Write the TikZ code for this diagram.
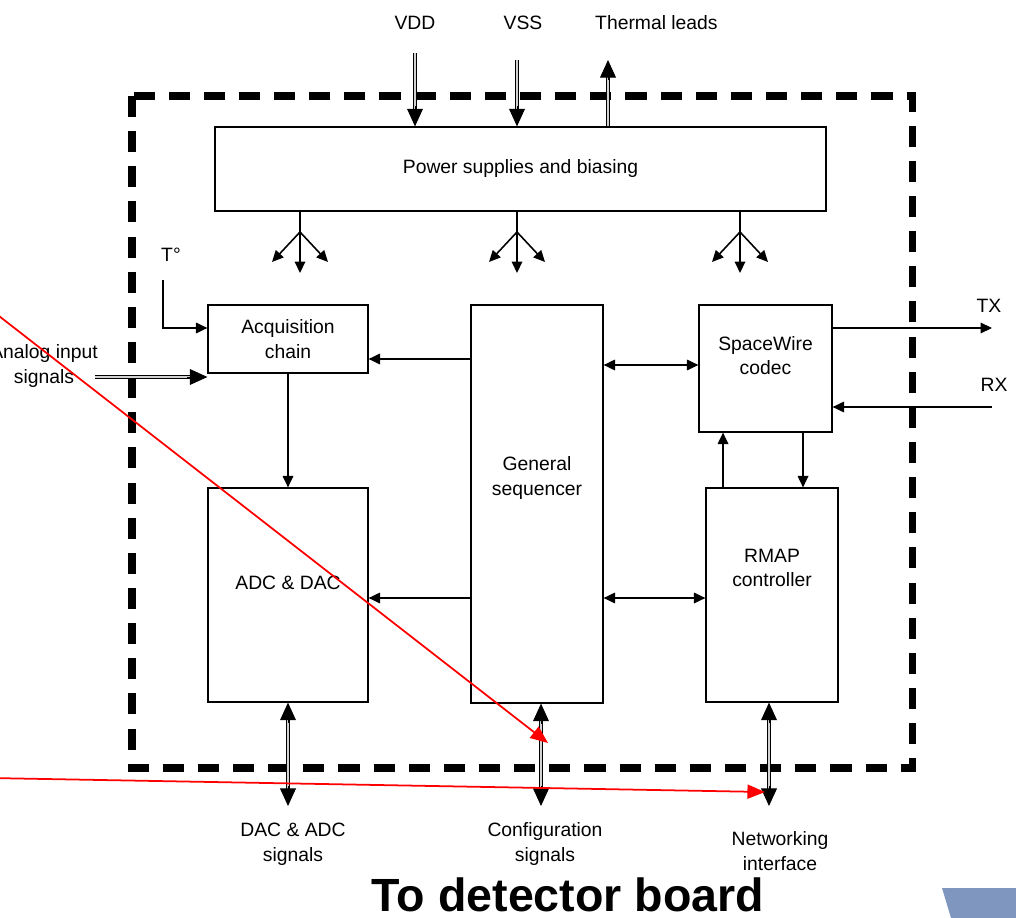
\documentclass[tikz,border=0pt]{standalone}
\usepackage{fontspec}
\setmainfont{Liberation Sans}
\usetikzlibrary{calc}
\usetikzlibrary{arrows.meta}
\usetikzlibrary{positioning}
\definecolor{slide}{HTML}{7F96BE}

\begin{document}
\begin{tikzpicture}[x=0.02cm, y=-0.02cm,
  >={Triangle[length=6.5pt, width=6pt]},
  blk/.style={rectangle, draw=black, line width=0.7pt, align=center, font=\fontsize{11}{14}\selectfont},
  txt/.style={align=center, font=\fontsize{11}{14}\selectfont},
  conn/.style={line width=0.9pt},
  dbl/.style={double=gray!35, double distance=1.3pt, line width=0.6pt},
  bigtip/.style={line width=0.55pt, -{Triangle[length=10pt, width=9pt]}},
  redarrow/.style={red, line width=1pt, -{Triangle[length=10pt, width=8pt]}}]
\useasboundingbox (0,0) rectangle (1016,918);

% outer frame
\draw[line width=4pt, dash pattern=on 12pt off 8pt] (132,96) rectangle (912,768);

% blocks
\draw (520.5,169) node[blk, name = pwr, minimum width=12.22cm, minimum height=1.68cm]{Power supplies and biasing};
\draw (288,339) node[blk, name = acq, minimum width=3.2cm, minimum height=1.36cm]{Acquisition\\chain};
\draw (537,504) node[blk, name = seq, minimum width=2.64cm, minimum height=7.96cm]{};
\draw (seq) + (0,-26) node[txt, name = seqtext]{General\\sequencer};
\draw (765.5,368.5) node[blk, name = spw, minimum width=2.66cm, minimum height=2.54cm]{};
\draw (spw) + (0,-13) node[txt, name = spwtext]{SpaceWire\\codec};
\draw (288,595) node[blk, name = adc, minimum width=3.2cm, minimum height=4.28cm]{};
\draw (adc) + (0,-12) node[txt, name = adctext]{ADC \& DAC};
\draw (772,595) node[blk, name = rmap, minimum width=2.64cm, minimum height=4.28cm]{};
\draw (rmap) + (0,-27) node[txt, name = rmaptext]{RMAP\\controller};

% supplies
\draw (415,23) node[txt, name = vdd]{VDD};
\draw (523,23) node[txt, name = vss]{VSS};
\draw (589,23) node[txt, anchor=west, name = therm]{Thermal leads};
\coordinate (vddin) at (415,53);
\coordinate (vssin) at (517,60);
\coordinate (thermout) at (608,60);
\draw[dbl, shorten >=8pt] (vddin) -- (pwr.north -| vddin);
\draw[bigtip] ($(pwr.north -| vddin)+(0,-20)$) -- (pwr.north -| vddin);
\draw[dbl, shorten >=8pt] (vssin) -- (pwr.north -| vssin);
\draw[bigtip] ($(pwr.north -| vssin)+(0,-20)$) -- (pwr.north -| vssin);
\draw[dbl, shorten >=8pt] (pwr.north -| thermout) -- (thermout);
\draw[bigtip] ($(thermout)+(0,20)$) -- (thermout);

% biasing fans
\foreach \x in {300,517,740}{
  \draw[conn] (pwr.south -| \x,0) -- (\x,232);
  \draw[conn,->] (\x,232) -- (\x,273);
  \draw[conn,->] (\x,232) -- (\x-28,262);
  \draw[conn,->] (\x,232) -- (\x+28,262);
}

% internal links
\draw[conn,->] (seq.west |- 0,359) -- (acq.east |- 0,359);
\draw[conn,<->] (seq.east |- 0,365) -- (spw.west |- 0,365);
\draw[conn,->] (seq.west |- 0,598) -- (adc.east |- 0,598);
\draw[conn,<->] (seq.east |- 0,598) -- (rmap.west |- 0,598);
\draw[conn,->] (acq) -- (adc);
\draw[conn,->] (rmap.north -| 723,0) -- (spw.south -| 723,0);
\draw[conn,->] (spw.south -| 803,0) -- (rmap.north -| 803,0);

% link side
\draw (989,306) node[txt, name = tx]{TX};
\coordinate (txend) at (992,328);
\draw[conn,->] (spw.east |- txend) -- (txend);
\draw (994,385) node[txt, name = rx]{RX};
\coordinate (rxstart) at (992,407);
\draw[conn,->] (rxstart) -- (spw.east |- rxstart);

% inputs
\draw (171,255) node[txt, name = temp]{T°};
\coordinate (tempstart) at (163,280);
\draw[conn,->] (tempstart) |- (acq.west |- 0,328);
\draw (44,366) node[txt, name = ain]{Analog input\\signals};
\coordinate (ainstart) at (95,377);
\draw[dbl, shorten >=8pt] (ainstart) -- (acq.west |- ainstart);
\draw[bigtip] ($(acq.west |- ainstart)+(-20,0)$) -- (acq.west |- ainstart);

% detector side
\coordinate (dacout) at (288,806);
\coordinate (cfgout) at (541,806);
\coordinate (netout) at (769,806);
\coordinate (dacin) at (adc.south);
\coordinate (cfgin) at (seq.south -| cfgout);
\coordinate (netin) at (rmap.south -| netout);
\foreach \a/\b in {dacin/dacout, cfgin/cfgout, netin/netout}{
  \draw[dbl, shorten >=8pt, shorten <=8pt] (\a) -- (\b);
  \draw[bigtip] ($(\a)+(0,20)$) -- (\a);
  \draw[bigtip] ($(\b)+(0,-20)$) -- (\b);
}
\draw (293,844) node[txt, name = dacsig]{DAC \& ADC\\signals};
\draw (545,844) node[txt, name = cfgsig]{Configuration\\signals};
\draw (780,851) node[txt, name = netif]{Networking\\interface};
\draw (568,911) node[anchor=base, font=\fontsize{26.5}{30}\selectfont\bfseries, inner sep=0pt, name = title]{To detector board};

% red marks
\coordinate (redA) at (-10,309);
\coordinate (redB) at (548,743);
\coordinate (redC) at (-10,778);
\coordinate (redD) at (765,792);
\draw[redarrow] (redA) -- (redB);
\draw[redarrow] (redC) -- (redD);

\fill[slide] (942,888) -- (1016,888) -- (1016,918) -- (951,918) -- cycle;
\end{tikzpicture}
\end{document}
